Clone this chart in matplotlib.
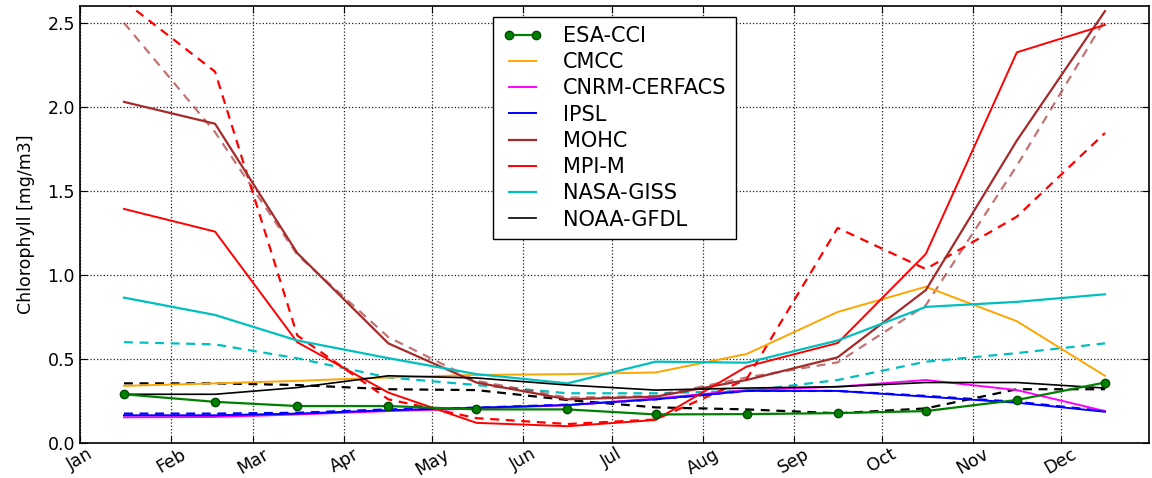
import datetime as dt
import matplotlib
matplotlib.use('Agg')
import matplotlib.pyplot as plt
import matplotlib.dates as mdates

# mid-month time axis
months = [dt.datetime(2001, m, 16) for m in range(1, 13)]

esa_cci = [0.29, 0.245, 0.22, 0.22, 0.20, 0.20, 0.17, 0.172, 0.178, 0.19, 0.256, 0.36]

cmcc = [0.34, 0.355, 0.37, 0.39, 0.405, 0.41, 0.42, 0.53, 0.78, 0.93, 0.725, 0.40]
cnrm = [0.153, 0.155, 0.17, 0.19, 0.205, 0.225, 0.265, 0.315, 0.335, 0.375, 0.315, 0.19]
ipsl = [0.165, 0.165, 0.175, 0.195, 0.21, 0.226, 0.26, 0.31, 0.31, 0.276, 0.24, 0.186]
mohc = [2.03, 1.90, 1.13, 0.593, 0.36, 0.26, 0.276, 0.375, 0.51, 0.91, 1.80, 2.57]
mpim = [1.393, 1.258, 0.60, 0.30, 0.12, 0.10, 0.137, 0.455, 0.595, 1.125, 2.325, 2.488]
nasa = [0.865, 0.762, 0.61, 0.505, 0.41, 0.355, 0.484, 0.478, 0.61, 0.81, 0.84, 0.885]
noaa = [0.29, 0.29, 0.33, 0.40, 0.387, 0.345, 0.315, 0.327, 0.335, 0.36, 0.36, 0.327]

# dashed companions
ipsl_d = [0.175, 0.175, 0.18, 0.20, 0.21, 0.228, 0.26, 0.31, 0.31, 0.28, 0.245, 0.19]
mohc_d = [2.50, 1.85, 1.12, 0.63, 0.37, 0.27, 0.28, 0.39, 0.48, 0.82, 1.65, 2.52]
mpim_d = [2.63, 2.21, 0.64, 0.26, 0.148, 0.113, 0.14, 0.38, 1.28, 1.035, 1.347, 1.845]
nasa_d = [0.60, 0.587, 0.504, 0.39, 0.345, 0.296, 0.296, 0.31, 0.375, 0.484, 0.535, 0.593]
noaa_d = [0.355, 0.355, 0.345, 0.32, 0.315, 0.256, 0.212, 0.20, 0.177, 0.206, 0.32, 0.32]

fig = plt.figure(figsize=(11.52, 4.78), dpi=100)
ax = fig.add_axes([0.0694, 0.0732, 0.928, 0.914])

dash = dict(lw=1.6, dashes=(4, 3))
ax.plot(months, ipsl_d, color='blue', **dash)
ax.plot(months, nasa_d, color='c', **dash)
ax.plot(months, noaa_d, color='black', **dash)
ax.plot(months, mohc_d, color='brown', alpha=0.65, **dash)
ax.plot(months, mpim_d, color='red', **dash)

lines = []
lines += ax.plot(months, esa_cci, color='green', lw=1.6, marker='o', markersize=6,
                 markeredgecolor='#004d00', label='ESA-CCI', zorder=4)
lines += ax.plot(months, cmcc, color='orange', lw=1.4, label='CMCC')
lines += ax.plot(months, cnrm, color='magenta', lw=1.4, label='CNRM-CERFACS')
lines += ax.plot(months, ipsl, color='blue', lw=1.4, label='IPSL')
lines += ax.plot(months, mohc, color='brown', lw=1.6, label='MOHC')
lines += ax.plot(months, mpim, color='red', lw=1.4, label='MPI-M')
lines += ax.plot(months, nasa, color='c', lw=1.6, label='NASA-GISS')
lines += ax.plot(months, noaa, color='black', lw=1.2, label='NOAA-GFDL')

ax.set_xlim(dt.datetime(2001, 1, 1), dt.datetime(2001, 12, 31))
ax.set_ylim(0, 2.6)
ax.xaxis.set_major_locator(mdates.MonthLocator())
ax.xaxis.set_major_formatter(mdates.DateFormatter('%b'))
ax.set_yticks([0.0, 0.5, 1.0, 1.5, 2.0, 2.5])
ax.set_yticklabels(['0.0', '0.5', '1.0', '1.5', '2.0', '2.5'])
ax.tick_params(direction='in', top=True, right=True, length=5, labelsize=12.5)
ax.tick_params(axis='x', pad=1.5)
for lab in ax.get_xticklabels():
    lab.set_rotation(30)
    lab.set_ha('center')
ax.grid(True, color='#222222', linestyle=':', lw=0.9)
for sp in ax.spines.values():
    sp.set_linewidth(1.2)

ax.set_ylabel('Chlorophyll [mg/m3]', fontsize=12.5)
ax.yaxis.set_label_coords(-0.042, 0.5)

leg = ax.legend(handles=lines, loc='upper center', fontsize=15, numpoints=2,
                handlelength=1.9, handletextpad=1.0, borderpad=0.45,
                fancybox=False, framealpha=1, labelspacing=0.3)
leg.get_frame().set_edgecolor('black')

fig.savefig('out.png', dpi=100)
